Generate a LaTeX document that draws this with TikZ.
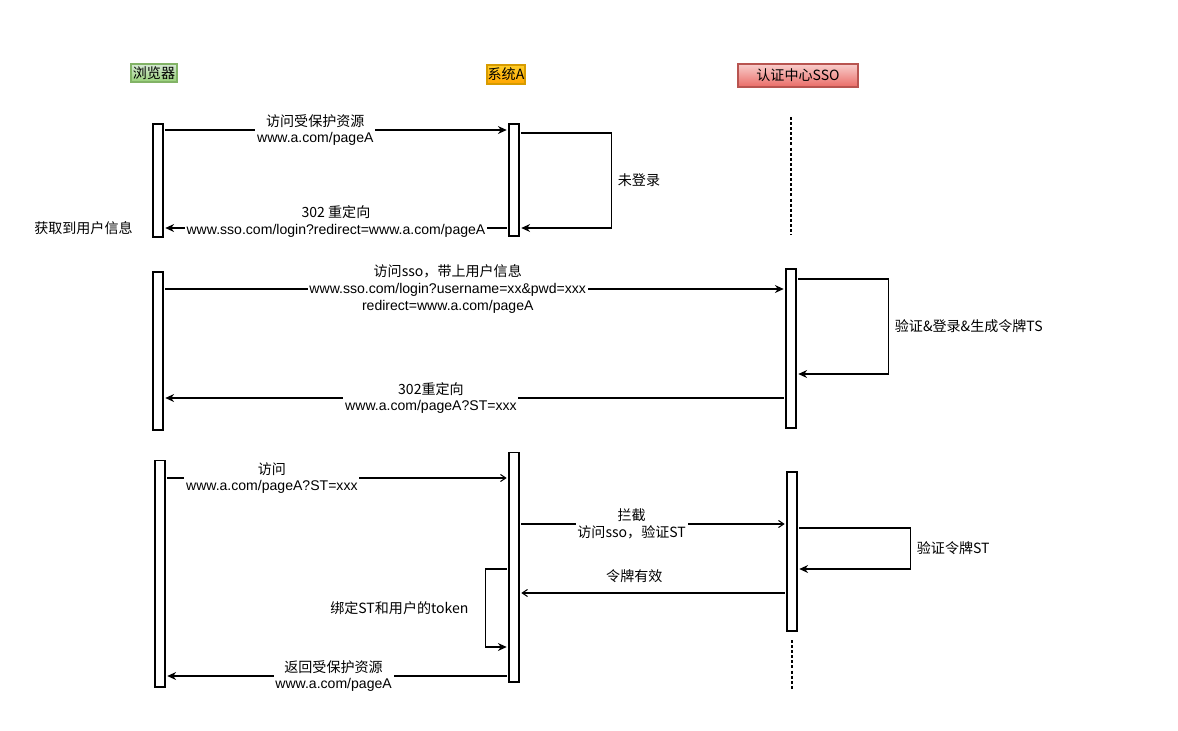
\documentclass[tikz,border=0pt]{standalone}
\usepackage{fontspec}
\setmainfont{Liberation Sans}
\newfontfamily\cjk{Noto Sans CJK SC}
\usetikzlibrary{arrows.meta}

\definecolor{grnTop}{HTML}{D5E8D4}
\definecolor{grnBot}{HTML}{97D077}
\definecolor{grnLine}{HTML}{82B366}
\definecolor{orgTop}{HTML}{FFCD28}
\definecolor{orgBot}{HTML}{FFA500}
\definecolor{orgLine}{HTML}{D79B00}
\definecolor{redTop}{HTML}{F8CECC}
\definecolor{redBot}{HTML}{EA6B66}
\definecolor{redLine}{HTML}{B85450}

\begin{document}
\begin{tikzpicture}[x=0.02cm,y=-0.02cm,
  every node/.style={font=\fontsize{8}{9.6}\selectfont},
  head/.style={draw,inner sep=0pt,line width=0.6pt},
  actbox/.style={draw,fill=white,inner sep=0pt,minimum width=0.2cm,line width=0.6pt},
  msg/.style={line width=0.6pt,-{Stealth[length=5pt,width=4.5pt]},shorten <=1pt,shorten >=1pt},
  msgopen/.style={line width=0.6pt,-{Straight Barb[length=3pt,width=4pt]},shorten <=1pt,shorten >=1pt},
  lbl/.style={fill=white,align=center,inner sep=1pt},
  lifeline/.style={line width=0.6pt,dash pattern=on 1.7pt off 1.2pt}]

\useasboundingbox (0,0) rectangle (1178,731);

% Draw the headers
\node[head,draw=grnLine,top color=grnTop,bottom color=grnBot,minimum width=0.92cm,minimum height=0.36cm] (browser) at (154,73) {\cjk 浏览器};
\node[head,draw=orgLine,top color=orgTop,bottom color=orgBot,minimum width=0.76cm,minimum height=0.38cm] (sysA) at (506,74.5) {\cjk 系统A};
\node[head,draw=redLine,top color=redTop,bottom color=redBot,minimum width=2.4cm,minimum height=0.46cm] (sso) at (798,75.5) {\cjk 认证中心SSO};

% Draw the activation boxes
\node[actbox,minimum height=2.26cm] (b1) at (158,180.5) {};
\node[actbox,minimum height=2.24cm] (a1) at (514,180) {};
\node[actbox,minimum height=3.16cm] (b2) at (158,351) {};
\node[actbox,minimum height=3.18cm] (s2) at (791,348.5) {};
\node[actbox,minimum height=4.54cm] (b3) at (160,573.5) {};
\node[actbox,minimum height=4.6cm] (a3) at (514,567) {};
\node[actbox,minimum height=3.18cm] (s3) at (792,551.5) {};

% Draw the SSO lifelines
\draw[lifeline] (s2.center |- 0,117) -- (s2.center |- 0,235);
\draw[lifeline] (s3.center |- 0,640) -- (s3.center |- 0,690);

% First round: not logged in
\draw[msg] (b1.east |- 0,130) -- node[lbl,pos=0.44] (l1) {{\cjk 访问受保护资源}\\www.a.com/pageA} (a1.west |- 0,130);
\draw[msg] (a1.east |- 0,133) -- ++(92,0) |- node[pos=0.25,right] (l2) {\cjk 未登录} (a1.east |- 0,228);
\draw[msg] (a1.west |- 0,228) -- node[lbl,pos=0.5,yshift=3.7pt] (l3) {{\cjk 302 重定向}\\www.sso.com/login?redirect=www.a.com/pageA} (b1.east |- 0,228);
\node[anchor=east,inner sep=0pt] (info) at (133,228) {\cjk 获取到用户信息};

% Second round: login at SSO
\draw[msg] (b2.east |- 0,289) -- node[lbl,pos=0.457] (l4) {{\cjk 访问sso，带上用户信息}\\www.sso.com/login?username=xx\&pwd=xxx\\redirect=www.a.com/pageA} (s2.west |- 0,289);
\draw[msg] (s2.east |- 0,279) -- ++(92,0) |- node[pos=0.25,right] (l5) {\cjk 验证\&登录\&生成令牌TS} (s2.east |- 0,374);
\draw[msg] (s2.west |- 0,398) -- node[lbl,pos=0.57] (l6) {{\cjk 302重定向}\\www.a.com/pageA?ST=xxx} (b2.east |- 0,398);

% Third round: verify ST
\draw[msgopen] (b3.east |- 0,478) -- node[lbl,pos=0.31] (l7) {{\cjk 访问}\\www.a.com/pageA?ST=xxx} (a3.west |- 0,478);
\draw[msgopen] (a3.east |- 0,524) -- node[lbl,pos=0.42] (l8) {{\cjk 拦截}\\{\cjk 访问sso，验证ST}} (s3.west |- 0,524);
\draw[msg] (s3.east |- 0,528) -- ++(113,0) |- node[pos=0.25,right] (l9) {\cjk 验证令牌ST} (s3.east |- 0,569);
\draw[msgopen] (s3.west |- 0,593) -- node[pos=0.57,yshift=9.6pt] (l10) {\cjk 令牌有效} (a3.east |- 0,593);
\draw[msg] (a3.west |- 0,569) -- ++(-23,0) |- node[pos=0.25,left,xshift=-6pt] (l11) {\cjk 绑定ST和用户的token} (a3.west |- 0,647);
\draw[msg] (a3.west |- 0,676) -- node[lbl,pos=0.51] (l12) {{\cjk 返回受保护资源}\\www.a.com/pageA} (b3.east |- 0,676);

\end{tikzpicture}
\end{document}
